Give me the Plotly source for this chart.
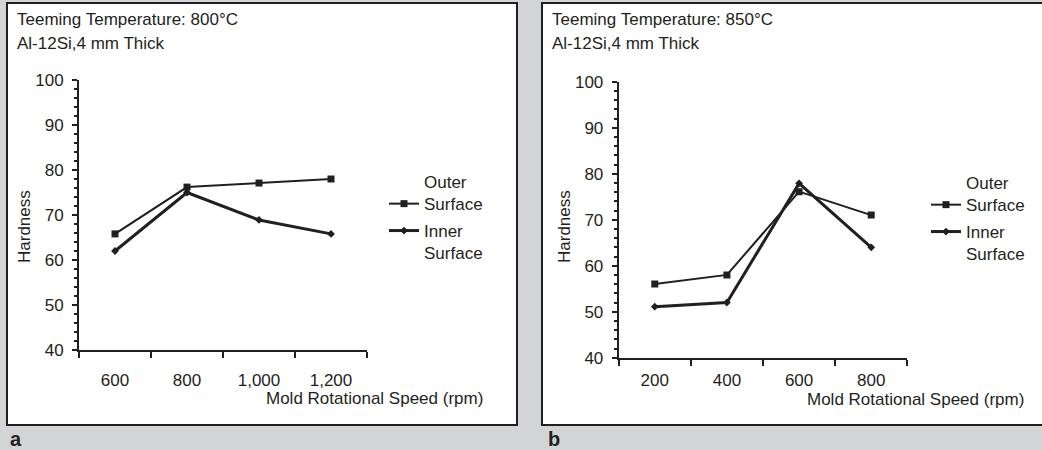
import plotly.graph_objects as go

# ---------------- data ----------------
speed_a = [600, 800, 1000, 1200]
outer_a = [65.8, 76.2, 77.1, 78.0]
inner_a = [62.0, 75.0, 68.9, 65.8]

speed_b = [200, 400, 600, 800]
outer_b = [56.0, 58.0, 76.1, 71.0]
inner_b = [51.1, 52.0, 77.9, 64.0]

y_ticks = [40, 50, 60, 70, 80, 90, 100]
title_a = ["Teeming Temperature: 800°C", "Al-12Si,4 mm Thick"]
title_b = ["Teeming Temperature: 850°C", "Al-12Si,4 mm Thick"]
x_title = "Mold Rotational Speed (rpm)"
y_title = "Hardness"
names = ["Outer<br>Surface", "Inner<br>Surface"]

# ---------------- style ----------------
W, H = 1042, 450
INK = "#231f20"
BG = "#d3d4d6"
FONT = "Arial, Liberation Sans, Helvetica, sans-serif"
FS = 17


def px(x):
    return x / W


def py(y):
    return 1 - y / H


fig = go.Figure()

# panel a traces
fig.add_trace(go.Scatter(x=speed_a, y=outer_a, name=names[0], mode="lines+markers",
                         line=dict(color=INK, width=2),
                         marker=dict(symbol="square", size=7, color=INK),
                         xaxis="x", yaxis="y", legend="legend"))
fig.add_trace(go.Scatter(x=speed_a, y=inner_a, name=names[1], mode="lines+markers",
                         line=dict(color=INK, width=3),
                         marker=dict(symbol="diamond", size=6, color=INK),
                         xaxis="x", yaxis="y", legend="legend2"))
# panel b traces
fig.add_trace(go.Scatter(x=speed_b, y=outer_b, name=names[0], mode="lines+markers",
                         line=dict(color=INK, width=2),
                         marker=dict(symbol="square", size=7, color=INK),
                         xaxis="x2", yaxis="y2", legend="legend3"))
fig.add_trace(go.Scatter(x=speed_b, y=inner_b, name=names[1], mode="lines+markers",
                         line=dict(color=INK, width=3),
                         marker=dict(symbol="diamond", size=6, color=INK),
                         xaxis="x2", yaxis="y2", legend="legend4"))


def xaxis_cfg(vals, domain, standoff, anchor):
    step = vals[1] - vals[0]
    edges = [v - step / 2 for v in vals] + [vals[-1] + step / 2]
    return dict(domain=domain, anchor=anchor, range=[edges[0], edges[-1]], tickmode="array",
                tickvals=vals, tickformat=",d", ticks="", showgrid=False, zeroline=False,
                showline=True, linewidth=2, linecolor=INK, automargin=False,
                tickfont=dict(family=FONT, size=FS, color=INK), ticklabelstandoff=standoff,
                minor=dict(tickmode="array", tickvals=edges, ticks="outside", ticklen=6,
                           tickwidth=2, tickcolor=INK, showgrid=False),
                fixedrange=True)


def yaxis_cfg(domain, anchor):
    return dict(domain=domain, anchor=anchor, range=[y_ticks[0], y_ticks[-1]], tickmode="array",
                tickvals=y_ticks, ticks="outside", ticklen=5, tickwidth=2, tickcolor=INK,
                showgrid=False, zeroline=False, showline=True, linewidth=2, linecolor=INK,
                automargin=False,
                tickfont=dict(family=FONT, size=FS, color=INK), ticklabelstandoff=5,
                minor=dict(dtick=2, ticks="outside", ticklen=3, tickwidth=1.5, tickcolor=INK,
                           showgrid=False),
                fixedrange=True)


def legend_cfg(xp, yp, valign):
    return dict(x=px(xp), y=py(yp), xanchor="left", yanchor="top", valign=valign,
                bgcolor="rgba(0,0,0,0)", borderwidth=0, itemwidth=30, tracegroupgap=0,
                font=dict(family=FONT, size=FS, color=INK))


fig.update_layout(
    width=W, height=H, autosize=False,
    margin=dict(l=0, r=0, t=0, b=0, pad=0),
    paper_bgcolor=BG, plot_bgcolor="white",
    font=dict(family=FONT, size=FS, color=INK),
    showlegend=True,
    xaxis=xaxis_cfg(speed_a, [px(79), px(367)], 14, "y"),
    yaxis=yaxis_cfg([py(350), py(80)], "x"),
    xaxis2=xaxis_cfg(speed_b, [px(618.7), px(907.3)], 6, "y2"),
    yaxis2=yaxis_cfg([py(357.7), py(81.7)], "x2"),
    legend=legend_cfg(384, 164, "bottom"),
    legend2=legend_cfg(384, 213, "top"),
    legend3=legend_cfg(926, 165, "bottom"),
    legend4=legend_cfg(926, 214, "top"),
)

# panels (white boxes)
fig.add_shape(type="rect", xref="paper", yref="paper", x0=px(7), x1=px(517), y0=py(425), y1=py(3),
              line=dict(color=INK, width=2), fillcolor="white", layer="below")
fig.add_shape(type="rect", xref="paper", yref="paper", x0=px(542), x1=px(1050), y0=py(425), y1=py(3),
              line=dict(color=INK, width=2), fillcolor="white", layer="below")

ann = []
for (lines, x0) in [(title_a, 15), (title_b, 550)]:
    ann.append(dict(text=lines[0], x=px(x0), y=py(19), xanchor="left", yanchor="middle", fs=FS))
    ann.append(dict(text=lines[1], x=px(x0), y=py(43), xanchor="left", yanchor="middle", fs=FS))
ann.append(dict(text=y_title, x=px(24), y=py(227), textangle=-90, xanchor="center", yanchor="middle", fs=FS))
ann.append(dict(text=y_title, x=px(564), y=py(227), textangle=-90, xanchor="center", yanchor="middle", fs=FS))
ann.append(dict(text=x_title, x=px(485), y=py(398), xanchor="right", yanchor="middle", fs=FS))
ann.append(dict(text=x_title, x=px(1026), y=py(399), xanchor="right", yanchor="middle", fs=FS))
ann.append(dict(text="<b>a</b>", x=px(8), y=py(439), xanchor="left", yanchor="middle", fs=20))
ann.append(dict(text="<b>b</b>", x=px(546), y=py(439), xanchor="left", yanchor="middle", fs=20))
for a in ann:
    size = a.pop("fs")
    a.update(xref="paper", yref="paper", showarrow=False,
             font=dict(family=FONT, size=size, color=INK))
fig.update_layout(annotations=ann)

fig.write_html("out.html",
               config={"displayModeBar": False},
               post_script="document.body.style.margin='0';document.body.style.overflow='hidden';")
